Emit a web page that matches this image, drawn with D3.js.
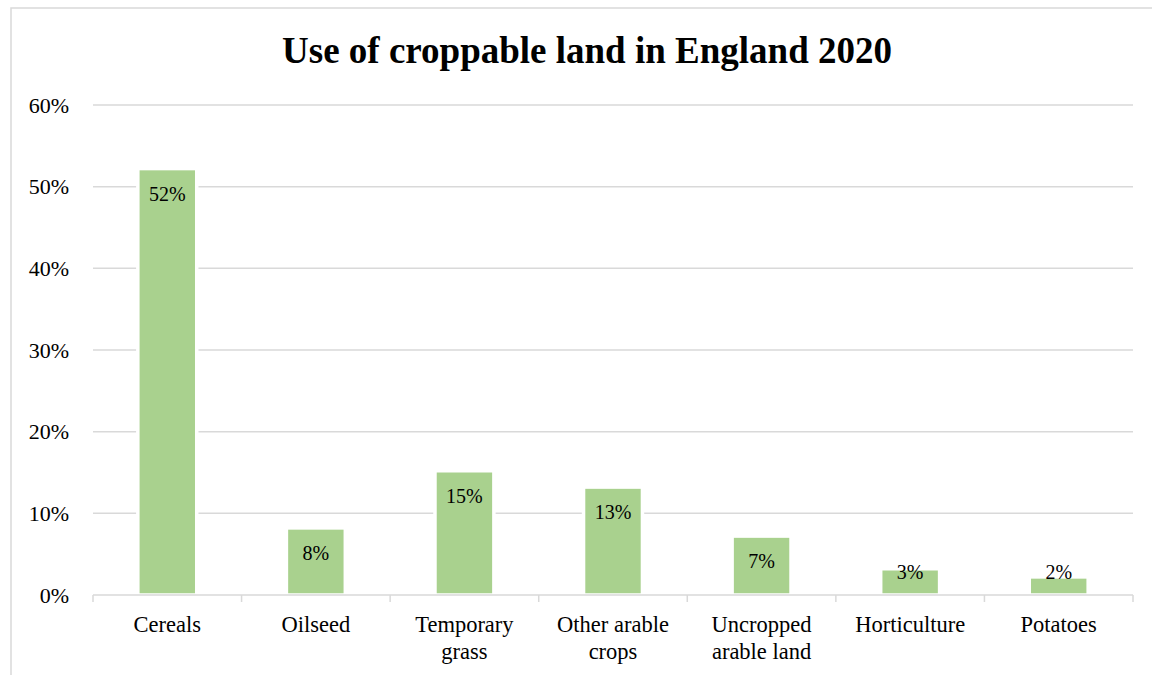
<!DOCTYPE html>
<html>
<head>
<meta charset="utf-8">
<script src="https://cdn.jsdelivr.net/npm/d3@7"></script>
<style>
  html, body { margin: 0; padding: 0; background: #fff; }
  svg { display: block; }
  text { font-family: "Liberation Serif", "Times New Roman", serif; fill: #000; }
</style>
</head>
<body>
<svg id="chart" width="1152" height="675"></svg>
<script>
// Share of croppable land by use, England 2020
const categories = ["Cereals", "Oilseed", "Temporary grass", "Other arable crops", "Uncropped arable land", "Horticulture", "Potatoes"];
const categoryLines = [["Cereals"], ["Oilseed"], ["Temporary", "grass"], ["Other arable", "crops"], ["Uncropped", "arable land"], ["Horticulture"], ["Potatoes"]];
const shares = [0.52, 0.08, 0.15, 0.13, 0.07, 0.03, 0.02];
const yTicks = [0, 0.1, 0.2, 0.3, 0.4, 0.5, 0.6];
const titleText = "Use of croppable land in England 2020";

const svg = d3.select("#chart");
const W = 1152, H = 675;
const plot = { left: 93, right: 1133, top: 105, bottom: 595 };

// Chart frame
svg.append("rect")
  .attr("x", 11).attr("y", 8)
  .attr("width", W + 20).attr("height", H + 20)
  .attr("fill", "#fff").attr("stroke", "#d9d9d9").attr("stroke-width", 1.5);

const x = d3.scaleBand().domain(categories).range([plot.left, plot.right]).paddingInner(0).paddingOuter(0);
const y = d3.scaleLinear().domain([0, 0.6]).range([plot.bottom, plot.top]);
const barW = 55.4;
const fmt = d3.format(".0%");

// Title
svg.append("text")
  .attr("x", 587).attr("y", 63)
  .attr("text-anchor", "middle")
  .style("font-size", "37px").style("font-weight", "bold")
  .text(titleText);

// Horizontal gridlines
svg.append("g").selectAll("line")
  .data(yTicks.filter(d => d > 0))
  .join("line")
  .attr("x1", plot.left).attr("x2", plot.right)
  .attr("y1", d => y(d)).attr("y2", d => y(d))
  .attr("stroke", "#d9d9d9").attr("stroke-width", 1.5);

// Y axis labels (no axis line)
const yAxis = d3.axisLeft(y).tickValues(yTicks).tickFormat(fmt).tickSize(0).tickPadding(0);
const gy = svg.append("g").attr("transform", "translate(69,0)").call(yAxis);
gy.select(".domain").remove();
gy.selectAll("text").style("font-size", "22px").style("font-family", "Liberation Serif, serif").attr("fill", "#000");

// Bars with a white outline that breaks the gridlines
const cx = d => x(d) + x.bandwidth() / 2;
const pad = 3.5;
svg.append("g").selectAll("rect")
  .data(categories.map((c, i) => ({ c, v: shares[i] })))
  .join("rect")
  .attr("x", d => cx(d.c) - barW / 2 - pad / 2)
  .attr("width", barW + pad)
  .attr("y", d => y(d.v) - pad / 2)
  .attr("height", d => y(0) - y(d.v) + pad / 2)
  .attr("fill", "#a9d18e")
  .attr("stroke", "#fff").attr("stroke-width", pad);

// X axis line and tick marks at category boundaries
const gx = svg.append("g");
gx.append("line")
  .attr("x1", plot.left).attr("x2", plot.right)
  .attr("y1", y(0)).attr("y2", y(0))
  .attr("stroke", "#d9d9d9").attr("stroke-width", 1.5);
const bounds = categories.map(c => x(c)).concat([plot.right]);
gx.selectAll("line.tick")
  .data(bounds)
  .join("line").attr("class", "tick")
  .attr("x1", d => d).attr("x2", d => d)
  .attr("y1", y(0)).attr("y2", y(0) + 7)
  .attr("stroke", "#d9d9d9").attr("stroke-width", 1.5);

// Category labels
const cl = svg.append("g").selectAll("text")
  .data(categories.map((c, i) => ({ c, lines: categoryLines[i] })))
  .join("text")
  .attr("text-anchor", "middle")
  .attr("x", d => cx(d.c))
  .attr("y", 632)
  .style("font-size", "22.5px");
cl.selectAll("tspan")
  .data(d => d.lines.map((t, j) => ({ t, j, px: cx(d.c) })))
  .join("tspan")
  .attr("x", d => d.px)
  .attr("y", d => 632 + d.j * 27)
  .text(d => d.t);

// Value labels inside the bar ends
svg.append("g").selectAll("text")
  .data(categories.map((c, i) => ({ c, v: shares[i] })))
  .join("text")
  .attr("text-anchor", "middle")
  .attr("x", d => cx(d.c))
  .attr("y", d => Math.min(y(d.v) + 30.5, y(0) - 16))
  .style("font-size", "20px")
  .text(d => fmt(d.v));
</script>
</body>
</html>
